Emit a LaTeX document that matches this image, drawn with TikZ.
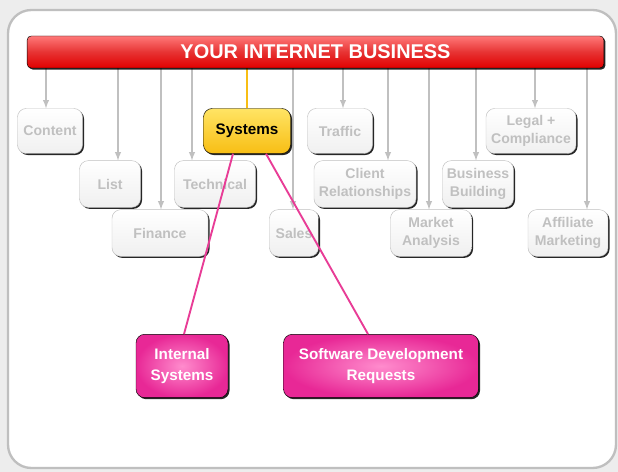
\documentclass[tikz,border=0pt]{standalone}
\usepackage{fontspec}
\setmainfont{Liberation Sans}
\usetikzlibrary{backgrounds,shadows,calc}
\definecolor{TitleRed}{RGB}{225,0,0}
\definecolor{TitleLight}{RGB}{255,120,120}
\definecolor{TopicGrey}{RGB}{192,192,192}
\definecolor{SysYellow}{RGB}{248,190,20}
\definecolor{SysLight}{RGB}{255,228,100}
\definecolor{ReqPink}{RGB}{232,40,150}
\definecolor{ReqLight}{RGB}{255,140,205}
\definecolor{LinkPink}{RGB}{232,60,150}

\begin{document}
\begin{tikzpicture}[x=0.3mm, y=-0.3mm,
    topic/.style={draw=TopicGrey, rounded corners=2.6mm, top color=white, bottom color=black!6,
        text=TopicGrey, align=center, inner sep=1pt, minimum height=14mm,
        font=\bfseries\fontsize{12}{15}\selectfont,
        drop shadow={shadow xshift=1.3pt, shadow yshift=-1.3pt, fill=black, opacity=0.85}},
    chosen/.style={topic, draw=black, top color=SysLight, bottom color=SysYellow, text=black,
        font=\bfseries\fontsize{13}{15}\selectfont},
    request/.style={topic, draw=black, inner color=ReqLight, outer color=ReqPink, text=white,
        minimum height=19mm, font=\bfseries\fontsize{13}{18}\selectfont},
    feed/.style={draw=TopicGrey, line width=1.4pt, ->, >=latex},
    link/.style={draw=LinkPink, line width=1.6pt}]

    \useasboundingbox (0,0) rectangle (618,472);

    \node[draw=black, rounded corners=1.2mm, top color=TitleLight, bottom color=TitleRed,
        middle color=TitleRed!80!white, minimum width=173mm, minimum height=9.6mm,
        text=white, font=\bfseries\fontsize{17}{20}\selectfont,
        drop shadow={shadow xshift=1.3pt, shadow yshift=-1.3pt, fill=black, opacity=0.85}]
        (Title) at (315.5,52) {YOUR INTERNET BUSINESS};

    \node[topic, minimum width=19.5mm, minimum height=13.5mm] (Content) at (50,131) {Content};
    \node[topic, minimum width=18.3mm] (List) at (110,184) {List};
    \node[topic, minimum width=24.3mm] (Technical) at (215,184) {Technical};
    \node[topic, minimum width=28.8mm] (Finance) at (160,233) {Finance};
    \node[topic, minimum width=14.7mm] (Sales) at (294,233) {Sales};
    \node[topic, minimum width=19.5mm, minimum height=13.5mm] (Traffic) at (340,131) {Traffic};
    \node[topic, minimum width=30.6mm] (Client) at (365,184) {Client\\Relationships};
    \node[topic, minimum width=24.3mm] (Market) at (431,233) {Market\\Analysis};
    \node[topic, minimum width=21.3mm] (Business) at (478,184) {Business\\Building};
    \node[topic, minimum width=27mm, minimum height=13.5mm] (Legal) at (531,131) {Legal +\\Compliance};
    \node[topic, minimum width=24mm] (Affiliate) at (568,233) {Affiliate\\Marketing};

    \node[chosen, minimum width=26.1mm, minimum height=13.5mm] (Systems) at (247,131) {Systems};

    \node[request, minimum width=27.6mm] (Internal) at (182,366) {Internal\\Systems};
    \node[request, minimum width=58.5mm] (Software) at (381,366) {Software Development\\Requests};

    \begin{scope}[on background layer]
        \fill[black!7] (0,0) rectangle (618,472);
        \draw[draw=black!25, line width=2pt, fill=white, rounded corners=7mm] (8,10) rectangle (616,468);

        \foreach \to/\x in {Content/46, List/118, Finance/161, Technical/192, Sales/293,
            Traffic/343, Client/388, Market/429, Business/476, Legal/535, Affiliate/587}
        \draw[feed] (\x,0|-Title.south) -- (\x,0|-\to.north);

        \draw[draw=SysYellow, line width=1.6pt] (Title.south-|Systems.north) -- (Systems.north);
    \end{scope}

    \draw[link] (233,0|-Systems.south) -- (184,0|-Internal.north);
    \draw[link] (266,0|-Systems.south) -- (368,0|-Software.north);

\end{tikzpicture}
\end{document}
